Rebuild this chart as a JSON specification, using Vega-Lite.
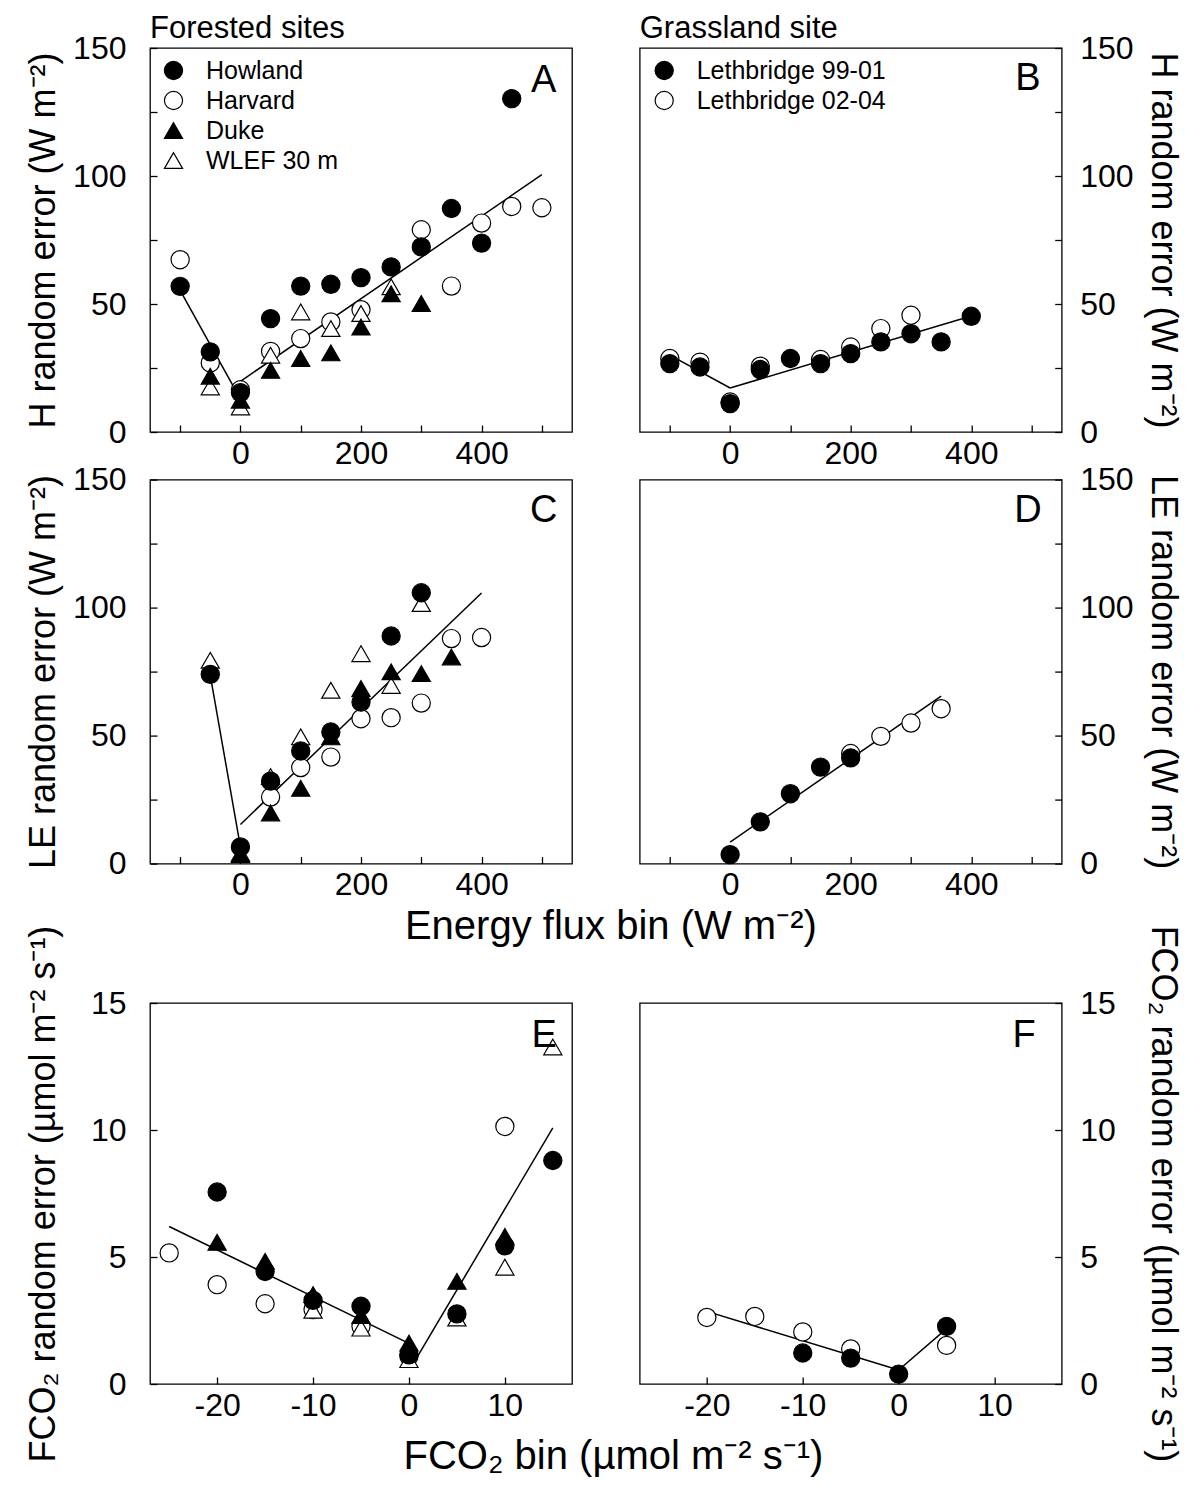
{
  "$schema": "https://vega.github.io/schema/vega-lite/v6.json",
  "background": "white",
  "padding": {"left": 24, "top": 12, "right": 5, "bottom": 5},
  "config": {
    "font": "Liberation Sans",
    "view": {"stroke": "black", "strokeWidth": 1.3},
    "axis": {"grid": false, "domain": false, "tickColor": "black", "tickWidth": 1.3, "tickSize": -7, "labelFontSize": 32, "labelColor": "black", "labelFont": "Liberation Sans", "titleFont": "Liberation Sans", "titleFontSize": 36, "titleFontWeight": "normal", "titleColor": "black", "labelOverlap": false, "labelFlush": false},
    "title": {"fontSize": 31, "fontWeight": "normal", "color": "black", "font": "Liberation Sans"},
    "legend": {"title": null, "labelFontSize": 25, "labelFont": "Liberation Sans", "labelColor": "black", "labelLimit": 400, "symbolSize": 330, "symbolStrokeWidth": 1.2, "rowPadding": 4, "labelOffset": 20, "padding": 0}
  },
  "datasets": {
    "pts": [
      {"panel": "A", "series": "Harvard", "x": -100, "y": 67.3},
      {"panel": "A", "series": "Harvard", "x": -50, "y": 27},
      {"panel": "A", "series": "Harvard", "x": 0, "y": 16.5},
      {"panel": "A", "series": "Harvard", "x": 50, "y": 31.5},
      {"panel": "A", "series": "Harvard", "x": 100, "y": 36.5},
      {"panel": "A", "series": "Harvard", "x": 150, "y": 43},
      {"panel": "A", "series": "Harvard", "x": 200, "y": 47.8},
      {"panel": "A", "series": "Harvard", "x": 300, "y": 79},
      {"panel": "A", "series": "Harvard", "x": 350, "y": 57},
      {"panel": "A", "series": "Harvard", "x": 400, "y": 81.6},
      {"panel": "A", "series": "Harvard", "x": 450, "y": 88.1},
      {"panel": "A", "series": "Harvard", "x": 500, "y": 87.6},
      {"panel": "A", "series": "WLEF 30 m", "x": -50, "y": 17.6},
      {"panel": "A", "series": "WLEF 30 m", "x": 0, "y": 9.8},
      {"panel": "A", "series": "WLEF 30 m", "x": 50, "y": 30},
      {"panel": "A", "series": "WLEF 30 m", "x": 100, "y": 46.9},
      {"panel": "A", "series": "WLEF 30 m", "x": 150, "y": 40.4},
      {"panel": "A", "series": "WLEF 30 m", "x": 200, "y": 46.3},
      {"panel": "A", "series": "WLEF 30 m", "x": 250, "y": 56.7},
      {"panel": "A", "series": "Duke", "x": -50, "y": 21.8},
      {"panel": "A", "series": "Duke", "x": 0, "y": 12.4},
      {"panel": "A", "series": "Duke", "x": 50, "y": 24.1},
      {"panel": "A", "series": "Duke", "x": 100, "y": 28.7},
      {"panel": "A", "series": "Duke", "x": 150, "y": 30.9},
      {"panel": "A", "series": "Duke", "x": 200, "y": 41},
      {"panel": "A", "series": "Duke", "x": 250, "y": 54},
      {"panel": "A", "series": "Duke", "x": 300, "y": 50.2},
      {"panel": "A", "series": "Howland", "x": -100, "y": 56.9},
      {"panel": "A", "series": "Howland", "x": -50, "y": 31.3},
      {"panel": "A", "series": "Howland", "x": 0, "y": 15.4},
      {"panel": "A", "series": "Howland", "x": 50, "y": 44.3},
      {"panel": "A", "series": "Howland", "x": 100, "y": 57},
      {"panel": "A", "series": "Howland", "x": 150, "y": 57.7},
      {"panel": "A", "series": "Howland", "x": 200, "y": 60.3},
      {"panel": "A", "series": "Howland", "x": 250, "y": 64.5},
      {"panel": "A", "series": "Howland", "x": 300, "y": 72.3},
      {"panel": "A", "series": "Howland", "x": 350, "y": 87.3},
      {"panel": "A", "series": "Howland", "x": 400, "y": 73.8},
      {"panel": "A", "series": "Howland", "x": 450, "y": 130.2},
      {"panel": "B", "series": "Lethbridge 02-04", "x": -100, "y": 28.7},
      {"panel": "B", "series": "Lethbridge 02-04", "x": -50, "y": 27.3},
      {"panel": "B", "series": "Lethbridge 02-04", "x": 0, "y": 11.7},
      {"panel": "B", "series": "Lethbridge 02-04", "x": 50, "y": 25.7},
      {"panel": "B", "series": "Lethbridge 02-04", "x": 150, "y": 28.3},
      {"panel": "B", "series": "Lethbridge 02-04", "x": 200, "y": 33.2},
      {"panel": "B", "series": "Lethbridge 02-04", "x": 250, "y": 40.4},
      {"panel": "B", "series": "Lethbridge 02-04", "x": 300, "y": 45.6},
      {"panel": "B", "series": "Lethbridge 99-01", "x": -100, "y": 26.7},
      {"panel": "B", "series": "Lethbridge 99-01", "x": -50, "y": 25.4},
      {"panel": "B", "series": "Lethbridge 99-01", "x": 0, "y": 11.1},
      {"panel": "B", "series": "Lethbridge 99-01", "x": 50, "y": 24.4},
      {"panel": "B", "series": "Lethbridge 99-01", "x": 100, "y": 28.7},
      {"panel": "B", "series": "Lethbridge 99-01", "x": 150, "y": 26.7},
      {"panel": "B", "series": "Lethbridge 99-01", "x": 200, "y": 30.6},
      {"panel": "B", "series": "Lethbridge 99-01", "x": 250, "y": 35.2},
      {"panel": "B", "series": "Lethbridge 99-01", "x": 300, "y": 38.4},
      {"panel": "B", "series": "Lethbridge 99-01", "x": 350, "y": 35.2},
      {"panel": "B", "series": "Lethbridge 99-01", "x": 400, "y": 45.2},
      {"panel": "C", "series": "Harvard", "x": 50, "y": 26},
      {"panel": "C", "series": "Harvard", "x": 100, "y": 37.5},
      {"panel": "C", "series": "Harvard", "x": 150, "y": 41.6},
      {"panel": "C", "series": "Harvard", "x": 200, "y": 56.6},
      {"panel": "C", "series": "Harvard", "x": 250, "y": 57},
      {"panel": "C", "series": "Harvard", "x": 300, "y": 62.7},
      {"panel": "C", "series": "Harvard", "x": 350, "y": 87.9},
      {"panel": "C", "series": "Harvard", "x": 400, "y": 88.3},
      {"panel": "C", "series": "WLEF 30 m", "x": -50, "y": 79.4},
      {"panel": "C", "series": "WLEF 30 m", "x": 0, "y": 4},
      {"panel": "C", "series": "WLEF 30 m", "x": 50, "y": 34},
      {"panel": "C", "series": "WLEF 30 m", "x": 100, "y": 49.5},
      {"panel": "C", "series": "WLEF 30 m", "x": 150, "y": 67.7},
      {"panel": "C", "series": "WLEF 30 m", "x": 200, "y": 82},
      {"panel": "C", "series": "WLEF 30 m", "x": 250, "y": 69.6},
      {"panel": "C", "series": "WLEF 30 m", "x": 300, "y": 101.6},
      {"panel": "C", "series": "Duke", "x": 0, "y": 3.5},
      {"panel": "C", "series": "Duke", "x": 50, "y": 19.8},
      {"panel": "C", "series": "Duke", "x": 100, "y": 29.4},
      {"panel": "C", "series": "Duke", "x": 150, "y": 49.5},
      {"panel": "C", "series": "Duke", "x": 200, "y": 68.4},
      {"panel": "C", "series": "Duke", "x": 250, "y": 74.9},
      {"panel": "C", "series": "Duke", "x": 300, "y": 74.2},
      {"panel": "C", "series": "Duke", "x": 350, "y": 80.7},
      {"panel": "C", "series": "Howland", "x": -50, "y": 73.9},
      {"panel": "C", "series": "Howland", "x": 0, "y": 6.5},
      {"panel": "C", "series": "Howland", "x": 50, "y": 32.2},
      {"panel": "C", "series": "Howland", "x": 100, "y": 44},
      {"panel": "C", "series": "Howland", "x": 150, "y": 51.4},
      {"panel": "C", "series": "Howland", "x": 200, "y": 63.1},
      {"panel": "C", "series": "Howland", "x": 250, "y": 88.9},
      {"panel": "C", "series": "Howland", "x": 300, "y": 105.8},
      {"panel": "D", "series": "Lethbridge 02-04", "x": 200, "y": 43},
      {"panel": "D", "series": "Lethbridge 02-04", "x": 250, "y": 49.7},
      {"panel": "D", "series": "Lethbridge 02-04", "x": 300, "y": 54.9},
      {"panel": "D", "series": "Lethbridge 02-04", "x": 350, "y": 60.5},
      {"panel": "D", "series": "Lethbridge 99-01", "x": 0, "y": 3.5},
      {"panel": "D", "series": "Lethbridge 99-01", "x": 50, "y": 16.3},
      {"panel": "D", "series": "Lethbridge 99-01", "x": 100, "y": 27.3},
      {"panel": "D", "series": "Lethbridge 99-01", "x": 150, "y": 37.7},
      {"panel": "D", "series": "Lethbridge 99-01", "x": 200, "y": 41.3},
      {"panel": "E", "series": "Harvard", "x": -25, "y": 5.16},
      {"panel": "E", "series": "Harvard", "x": -20, "y": 3.91},
      {"panel": "E", "series": "Harvard", "x": -15, "y": 3.16},
      {"panel": "E", "series": "Harvard", "x": -10, "y": 2.93},
      {"panel": "E", "series": "Harvard", "x": -5, "y": 2.27},
      {"panel": "E", "series": "Harvard", "x": 0, "y": 1.09},
      {"panel": "E", "series": "Harvard", "x": 10, "y": 10.14},
      {"panel": "E", "series": "WLEF 30 m", "x": -10, "y": 2.9},
      {"panel": "E", "series": "WLEF 30 m", "x": -5, "y": 2.2},
      {"panel": "E", "series": "WLEF 30 m", "x": 0, "y": 0.96},
      {"panel": "E", "series": "WLEF 30 m", "x": 5, "y": 2.6},
      {"panel": "E", "series": "WLEF 30 m", "x": 10, "y": 4.6},
      {"panel": "E", "series": "WLEF 30 m", "x": 15, "y": 13.27},
      {"panel": "E", "series": "Duke", "x": -20, "y": 5.58},
      {"panel": "E", "series": "Duke", "x": -15, "y": 4.83},
      {"panel": "E", "series": "Duke", "x": -10, "y": 3.52},
      {"panel": "E", "series": "Duke", "x": -5, "y": 2.7},
      {"panel": "E", "series": "Duke", "x": 0, "y": 1.61},
      {"panel": "E", "series": "Duke", "x": 5, "y": 4.04},
      {"panel": "E", "series": "Duke", "x": 10, "y": 5.81},
      {"panel": "E", "series": "Howland", "x": -20, "y": 7.56},
      {"panel": "E", "series": "Howland", "x": -15, "y": 4.43},
      {"panel": "E", "series": "Howland", "x": -10, "y": 3.29},
      {"panel": "E", "series": "Howland", "x": -5, "y": 3.06},
      {"panel": "E", "series": "Howland", "x": 0, "y": 1.15},
      {"panel": "E", "series": "Howland", "x": 5, "y": 2.76},
      {"panel": "E", "series": "Howland", "x": 10, "y": 5.44},
      {"panel": "E", "series": "Howland", "x": 15, "y": 8.8},
      {"panel": "F", "series": "Lethbridge 02-04", "x": -20, "y": 2.62},
      {"panel": "F", "series": "Lethbridge 02-04", "x": -15, "y": 2.66},
      {"panel": "F", "series": "Lethbridge 02-04", "x": -10, "y": 2.05},
      {"panel": "F", "series": "Lethbridge 02-04", "x": -5, "y": 1.38},
      {"panel": "F", "series": "Lethbridge 02-04", "x": 5, "y": 1.52},
      {"panel": "F", "series": "Lethbridge 99-01", "x": -10, "y": 1.22},
      {"panel": "F", "series": "Lethbridge 99-01", "x": -5, "y": 1.02},
      {"panel": "F", "series": "Lethbridge 99-01", "x": 0, "y": 0.39},
      {"panel": "F", "series": "Lethbridge 99-01", "x": 5, "y": 2.27}
    ],
    "fits": [
      {"panel": "A", "seg": 1, "x": -100, "y": 55.3},
      {"panel": "A", "seg": 1, "x": 0, "y": 12.8},
      {"panel": "A", "seg": 2, "x": 0, "y": 19.8},
      {"panel": "A", "seg": 2, "x": 500, "y": 100.5},
      {"panel": "B", "seg": 1, "x": -100, "y": 30},
      {"panel": "B", "seg": 1, "x": 0, "y": 17.2},
      {"panel": "B", "seg": 2, "x": 0, "y": 17.2},
      {"panel": "B", "seg": 2, "x": 400, "y": 45.3},
      {"panel": "C", "seg": 1, "x": -50, "y": 73.5},
      {"panel": "C", "seg": 1, "x": 0, "y": 6.5},
      {"panel": "C", "seg": 2, "x": 0, "y": 15.3},
      {"panel": "C", "seg": 2, "x": 400, "y": 105.7},
      {"panel": "D", "seg": 1, "x": 0, "y": 8.4},
      {"panel": "D", "seg": 1, "x": 350, "y": 65.4},
      {"panel": "E", "seg": 1, "x": -25, "y": 6.2},
      {"panel": "E", "seg": 1, "x": 0, "y": 1.6},
      {"panel": "E", "seg": 2, "x": 0.9, "y": 1.09},
      {"panel": "E", "seg": 2, "x": 15, "y": 10.08},
      {"panel": "F", "seg": 1, "x": -20, "y": 2.86},
      {"panel": "F", "seg": 1, "x": 0, "y": 0.55},
      {"panel": "F", "seg": 2, "x": 0, "y": 0.55},
      {"panel": "F", "seg": 2, "x": 5, "y": 2.18}
    ]
  },
  "resolve": {"scale": {"shape": "independent", "fill": "independent", "stroke": "independent"}},
  "spacing": -24,
  "vconcat": [
    {
      "columns": 2,
      "bounds": "flush",
      "spacing": {"row": 47.6, "column": 67.7},
      "resolve": {"scale": {"shape": "independent", "fill": "independent", "stroke": "independent"}},
      "title": {"text": "Energy flux bin (W m⁻²)", "orient": "bottom", "anchor": "middle", "fontSize": 40, "offset": 6, "dx": 8},
      "concat": [
        {
          "width": 422, "height": 384,
          "title": {"text": "Forested sites", "anchor": "start", "frame": "group", "offset": -37, "baseline": "alphabetic"},
          "layer": [
            {"data": {"name": "fits"}, "transform": [{"filter": "datum.panel === 'A'"}], "mark": {"type": "line", "color": "black", "strokeWidth": 1.5},
             "encoding": {
               "x": {"field": "x", "type": "quantitative", "scale": {"domain": [-150, 550], "nice": false, "zero": false}, "axis": {"values": [-100, 0, 100, 200, 300, 400, 500], "labelExpr": "datum.value % 200 === 0 ? '' + datum.value : ''", "title": null, "labelPadding": 13}},
               "y": {"field": "y", "type": "quantitative", "scale": {"domain": [0, 150], "nice": false}, "axis": {"orient": "left", "values": [0, 25, 50, 75, 100, 125, 150], "labelExpr": "datum.value % 50 === 0 ? datum.label : ''", "title": "H random error (W m⁻²)", "labelPadding": 31, "titlePadding": 10}},
               "detail": {"field": "seg"}}},
            {"data": {"name": "pts"}, "transform": [{"filter": "datum.panel === 'A'"}], "mark": {"type": "point", "filled": true, "strokeWidth": 1.2, "size": 330, "opacity": 1},
             "encoding": {
               "x": {"field": "x", "type": "quantitative", "scale": {"domain": [-150, 550], "nice": false, "zero": false}, "axis": {"values": [-100, 0, 100, 200, 300, 400, 500], "labelExpr": "datum.value % 200 === 0 ? '' + datum.value : ''", "title": null, "labelPadding": 13}},
               "y": {"field": "y", "type": "quantitative", "scale": {"domain": [0, 150], "nice": false}, "axis": {"orient": "left", "values": [0, 25, 50, 75, 100, 125, 150], "labelExpr": "datum.value % 50 === 0 ? datum.label : ''", "title": "H random error (W m⁻²)", "labelPadding": 31, "titlePadding": 10}},
               "shape": {"field": "series", "type": "nominal", "scale": {"domain": ["Howland", "Harvard", "Duke", "WLEF 30 m"], "range": ["circle", "circle", "triangle-up", "triangle-up"]}, "legend": {"orient": "none", "legendX": 11, "legendY": 10}},
               "fill": {"field": "series", "type": "nominal", "scale": {"domain": ["Howland", "Harvard", "Duke", "WLEF 30 m"], "range": ["black", "white", "black", "white"]}, "legend": {"orient": "none", "legendX": 11, "legendY": 10}},
               "stroke": {"field": "series", "type": "nominal", "scale": {"domain": ["Howland", "Harvard", "Duke", "WLEF 30 m"], "range": ["black", "black", "black", "black"]}, "legend": {"orient": "none", "legendX": 11, "legendY": 10}}
             }},
            {"data": {"values": [{"t": "A"}]}, "mark": {"type": "text", "fontSize": 38, "align": "center", "baseline": "alphabetic", "color": "black"}, "encoding": {"x": {"datum": 503, "type": "quantitative"}, "y": {"datum": 133, "type": "quantitative"}, "text": {"field": "t"}}}
          ]
        },
        {
          "width": 422, "height": 384,
          "title": {"text": "Grassland site", "anchor": "start", "frame": "group", "offset": -37, "baseline": "alphabetic"},
          "layer": [
            {"data": {"name": "fits"}, "transform": [{"filter": "datum.panel === 'B'"}], "mark": {"type": "line", "color": "black", "strokeWidth": 1.5},
             "encoding": {
               "x": {"field": "x", "type": "quantitative", "scale": {"domain": [-150, 550], "nice": false, "zero": false}, "axis": {"values": [-100, 0, 100, 200, 300, 400, 500], "labelExpr": "datum.value % 200 === 0 ? '' + datum.value : ''", "title": null, "labelPadding": 13}},
               "y": {"field": "y", "type": "quantitative", "scale": {"domain": [0, 150], "nice": false}, "axis": {"orient": "right", "values": [0, 25, 50, 75, 100, 125, 150], "labelExpr": "datum.value % 50 === 0 ? datum.label : ''", "title": "H random error (W m⁻²)", "labelPadding": 25, "titlePadding": 10}},
               "detail": {"field": "seg"}}},
            {"data": {"name": "pts"}, "transform": [{"filter": "datum.panel === 'B'"}], "mark": {"type": "point", "filled": true, "strokeWidth": 1.2, "size": 330, "opacity": 1},
             "encoding": {
               "x": {"field": "x", "type": "quantitative", "scale": {"domain": [-150, 550], "nice": false, "zero": false}, "axis": {"values": [-100, 0, 100, 200, 300, 400, 500], "labelExpr": "datum.value % 200 === 0 ? '' + datum.value : ''", "title": null, "labelPadding": 13}},
               "y": {"field": "y", "type": "quantitative", "scale": {"domain": [0, 150], "nice": false}, "axis": {"orient": "right", "values": [0, 25, 50, 75, 100, 125, 150], "labelExpr": "datum.value % 50 === 0 ? datum.label : ''", "title": "H random error (W m⁻²)", "labelPadding": 25, "titlePadding": 10}},
               "shape": {"field": "series", "type": "nominal", "scale": {"domain": ["Lethbridge 99-01", "Lethbridge 02-04"], "range": ["circle", "circle"]}, "legend": {"orient": "none", "legendX": 12, "legendY": 10}},
               "fill": {"field": "series", "type": "nominal", "scale": {"domain": ["Lethbridge 99-01", "Lethbridge 02-04"], "range": ["black", "white"]}, "legend": {"orient": "none", "legendX": 12, "legendY": 10}},
               "stroke": {"field": "series", "type": "nominal", "scale": {"domain": ["Lethbridge 99-01", "Lethbridge 02-04"], "range": ["black", "black"]}, "legend": {"orient": "none", "legendX": 12, "legendY": 10}}
             }},
            {"data": {"values": [{"t": "B"}]}, "mark": {"type": "text", "fontSize": 38, "align": "center", "baseline": "alphabetic", "color": "black"}, "encoding": {"x": {"datum": 494, "type": "quantitative"}, "y": {"datum": 133.5, "type": "quantitative"}, "text": {"field": "t"}}}
          ]
        },
        {
          "width": 422, "height": 384,
          "layer": [
            {"data": {"name": "fits"}, "transform": [{"filter": "datum.panel === 'C'"}], "mark": {"type": "line", "color": "black", "strokeWidth": 1.5},
             "encoding": {
               "x": {"field": "x", "type": "quantitative", "scale": {"domain": [-150, 550], "nice": false, "zero": false}, "axis": {"values": [-100, 0, 100, 200, 300, 400, 500], "labelExpr": "datum.value % 200 === 0 ? '' + datum.value : ''", "title": null, "labelPadding": 13}},
               "y": {"field": "y", "type": "quantitative", "scale": {"domain": [0, 150], "nice": false}, "axis": {"orient": "left", "values": [0, 25, 50, 75, 100, 125, 150], "labelExpr": "datum.value % 50 === 0 ? datum.label : ''", "title": "LE random error (W m⁻²)", "labelPadding": 31, "titlePadding": 10}},
               "detail": {"field": "seg"}}},
            {"data": {"name": "pts"}, "transform": [{"filter": "datum.panel === 'C'"}], "mark": {"type": "point", "filled": true, "stroke": "black", "strokeWidth": 1.2, "size": 330, "opacity": 1},
             "encoding": {
               "x": {"field": "x", "type": "quantitative", "scale": {"domain": [-150, 550], "nice": false, "zero": false}, "axis": {"values": [-100, 0, 100, 200, 300, 400, 500], "labelExpr": "datum.value % 200 === 0 ? '' + datum.value : ''", "title": null, "labelPadding": 13}},
               "y": {"field": "y", "type": "quantitative", "scale": {"domain": [0, 150], "nice": false}, "axis": {"orient": "left", "values": [0, 25, 50, 75, 100, 125, 150], "labelExpr": "datum.value % 50 === 0 ? datum.label : ''", "title": "LE random error (W m⁻²)", "labelPadding": 31, "titlePadding": 10}},
               "shape": {"field": "series", "type": "nominal", "scale": {"domain": ["Howland", "Harvard", "Duke", "WLEF 30 m"], "range": ["circle", "circle", "triangle-up", "triangle-up"]}, "legend": null},
               "fill": {"field": "series", "type": "nominal", "scale": {"domain": ["Howland", "Harvard", "Duke", "WLEF 30 m"], "range": ["black", "white", "black", "white"]}, "legend": null}
             }},
            {"data": {"values": [{"t": "C"}]}, "mark": {"type": "text", "fontSize": 38, "align": "center", "baseline": "alphabetic", "color": "black"}, "encoding": {"x": {"datum": 503, "type": "quantitative"}, "y": {"datum": 133.4, "type": "quantitative"}, "text": {"field": "t"}}}
          ]
        },
        {
          "width": 422, "height": 384,
          "layer": [
            {"data": {"name": "fits"}, "transform": [{"filter": "datum.panel === 'D'"}], "mark": {"type": "line", "color": "black", "strokeWidth": 1.5},
             "encoding": {
               "x": {"field": "x", "type": "quantitative", "scale": {"domain": [-150, 550], "nice": false, "zero": false}, "axis": {"values": [-100, 0, 100, 200, 300, 400, 500], "labelExpr": "datum.value % 200 === 0 ? '' + datum.value : ''", "title": null, "labelPadding": 13}},
               "y": {"field": "y", "type": "quantitative", "scale": {"domain": [0, 150], "nice": false}, "axis": {"orient": "right", "values": [0, 25, 50, 75, 100, 125, 150], "labelExpr": "datum.value % 50 === 0 ? datum.label : ''", "title": "LE random error (W m⁻²)", "labelPadding": 25, "titlePadding": 10}},
               "detail": {"field": "seg"}}},
            {"data": {"name": "pts"}, "transform": [{"filter": "datum.panel === 'D'"}], "mark": {"type": "point", "filled": true, "stroke": "black", "strokeWidth": 1.2, "size": 330, "opacity": 1},
             "encoding": {
               "x": {"field": "x", "type": "quantitative", "scale": {"domain": [-150, 550], "nice": false, "zero": false}, "axis": {"values": [-100, 0, 100, 200, 300, 400, 500], "labelExpr": "datum.value % 200 === 0 ? '' + datum.value : ''", "title": null, "labelPadding": 13}},
               "y": {"field": "y", "type": "quantitative", "scale": {"domain": [0, 150], "nice": false}, "axis": {"orient": "right", "values": [0, 25, 50, 75, 100, 125, 150], "labelExpr": "datum.value % 50 === 0 ? datum.label : ''", "title": "LE random error (W m⁻²)", "labelPadding": 25, "titlePadding": 10}},
               "shape": {"field": "series", "type": "nominal", "scale": {"domain": ["Lethbridge 99-01", "Lethbridge 02-04"], "range": ["circle", "circle"]}, "legend": null},
               "fill": {"field": "series", "type": "nominal", "scale": {"domain": ["Lethbridge 99-01", "Lethbridge 02-04"], "range": ["black", "white"]}, "legend": null}
             }},
            {"data": {"values": [{"t": "D"}]}, "mark": {"type": "text", "fontSize": 38, "align": "center", "baseline": "alphabetic", "color": "black"}, "encoding": {"x": {"datum": 494, "type": "quantitative"}, "y": {"datum": 133.4, "type": "quantitative"}, "text": {"field": "t"}}}
          ]
        }
      ]
    },
    {
      "bounds": "flush",
      "spacing": 67.7,
      "resolve": {"scale": {"shape": "independent", "fill": "independent", "stroke": "independent"}},
      "hconcat": [
        {
          "width": 422, "height": 381,
          "layer": [
            {"data": {"name": "fits"}, "transform": [{"filter": "datum.panel === 'E'"}], "mark": {"type": "line", "color": "black", "strokeWidth": 1.5},
             "encoding": {
               "x": {"field": "x", "type": "quantitative", "scale": {"domain": [-27, 17], "nice": false, "zero": false}, "axis": {"values": [-20, -10, 0, 10], "labelExpr": "'' + datum.value", "title": "FCO₂ bin (µmol m⁻² s⁻¹)", "titleFontSize": 40, "titleX": 463, "titlePadding": 15, "labelPadding": 13}},
               "y": {"field": "y", "type": "quantitative", "scale": {"domain": [0, 15], "nice": false}, "axis": {"orient": "left", "values": [0, 5, 10, 15], "title": "FCO₂ random error (µmol m⁻² s⁻¹)", "labelPadding": 31, "titlePadding": 28}},
               "detail": {"field": "seg"}}},
            {"data": {"name": "pts"}, "transform": [{"filter": "datum.panel === 'E'"}], "mark": {"type": "point", "filled": true, "stroke": "black", "strokeWidth": 1.2, "size": 330, "opacity": 1},
             "encoding": {
               "x": {"field": "x", "type": "quantitative", "scale": {"domain": [-27, 17], "nice": false, "zero": false}, "axis": {"values": [-20, -10, 0, 10], "labelExpr": "'' + datum.value", "title": "FCO₂ bin (µmol m⁻² s⁻¹)", "titleFontSize": 40, "titleX": 463, "titlePadding": 15, "labelPadding": 13}},
               "y": {"field": "y", "type": "quantitative", "scale": {"domain": [0, 15], "nice": false}, "axis": {"orient": "left", "values": [0, 5, 10, 15], "title": "FCO₂ random error (µmol m⁻² s⁻¹)", "labelPadding": 31, "titlePadding": 28}},
               "shape": {"field": "series", "type": "nominal", "scale": {"domain": ["Howland", "Harvard", "Duke", "WLEF 30 m"], "range": ["circle", "circle", "triangle-up", "triangle-up"]}, "legend": null},
               "fill": {"field": "series", "type": "nominal", "scale": {"domain": ["Howland", "Harvard", "Duke", "WLEF 30 m"], "range": ["black", "white", "black", "white"]}, "legend": null}
             }},
            {"data": {"values": [{"t": "E"}]}, "mark": {"type": "text", "fontSize": 38, "align": "center", "baseline": "alphabetic", "color": "black"}, "encoding": {"x": {"datum": 14.1, "type": "quantitative"}, "y": {"datum": 13.27, "type": "quantitative"}, "text": {"field": "t"}}}
          ]
        },
        {
          "width": 422, "height": 381,
          "layer": [
            {"data": {"name": "fits"}, "transform": [{"filter": "datum.panel === 'F'"}], "mark": {"type": "line", "color": "black", "strokeWidth": 1.5},
             "encoding": {
               "x": {"field": "x", "type": "quantitative", "scale": {"domain": [-27, 17], "nice": false, "zero": false}, "axis": {"values": [-20, -10, 0, 10], "labelExpr": "'' + datum.value", "title": null, "labelPadding": 13}},
               "y": {"field": "y", "type": "quantitative", "scale": {"domain": [0, 15], "nice": false}, "axis": {"orient": "right", "values": [0, 5, 10, 15], "title": "FCO₂ random error (µmol m⁻² s⁻¹)", "labelPadding": 25, "titlePadding": 28}},
               "detail": {"field": "seg"}}},
            {"data": {"name": "pts"}, "transform": [{"filter": "datum.panel === 'F'"}], "mark": {"type": "point", "filled": true, "stroke": "black", "strokeWidth": 1.2, "size": 330, "opacity": 1},
             "encoding": {
               "x": {"field": "x", "type": "quantitative", "scale": {"domain": [-27, 17], "nice": false, "zero": false}, "axis": {"values": [-20, -10, 0, 10], "labelExpr": "'' + datum.value", "title": null, "labelPadding": 13}},
               "y": {"field": "y", "type": "quantitative", "scale": {"domain": [0, 15], "nice": false}, "axis": {"orient": "right", "values": [0, 5, 10, 15], "title": "FCO₂ random error (µmol m⁻² s⁻¹)", "labelPadding": 25, "titlePadding": 28}},
               "shape": {"field": "series", "type": "nominal", "scale": {"domain": ["Lethbridge 99-01", "Lethbridge 02-04"], "range": ["circle", "circle"]}, "legend": null},
               "fill": {"field": "series", "type": "nominal", "scale": {"domain": ["Lethbridge 99-01", "Lethbridge 02-04"], "range": ["black", "white"]}, "legend": null}
             }},
            {"data": {"values": [{"t": "F"}]}, "mark": {"type": "text", "fontSize": 38, "align": "center", "baseline": "alphabetic", "color": "black"}, "encoding": {"x": {"datum": 13.07, "type": "quantitative"}, "y": {"datum": 13.27, "type": "quantitative"}, "text": {"field": "t"}}}
          ]
        }
      ]
    }
  ]
}
